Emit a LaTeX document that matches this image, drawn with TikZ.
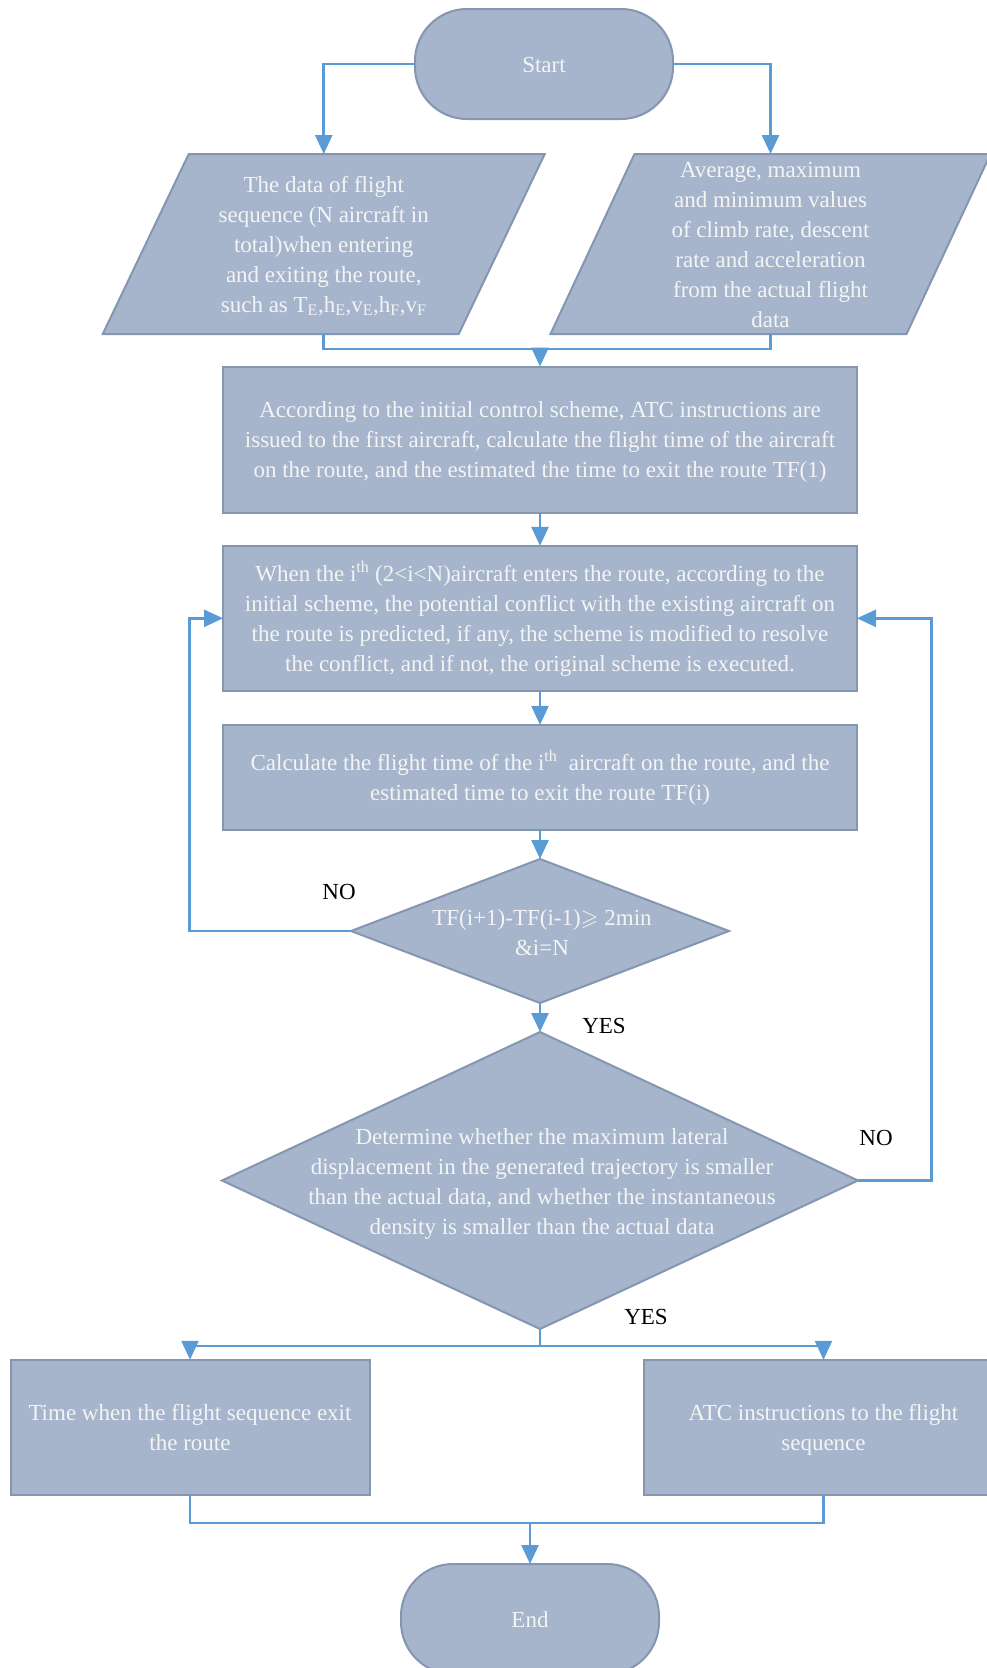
\documentclass[tikz,border=0pt]{standalone}
\usepackage{fontspec}
\setmainfont{Liberation Serif}
\usepackage{amssymb}
\usetikzlibrary{arrows.meta,shapes.geometric,backgrounds}
\definecolor{fillc}{RGB}{166,181,204}
\definecolor{borderc}{RGB}{132,150,176}
\definecolor{lineblue}{RGB}{91,155,213}
\definecolor{textc}{RGB}{244,244,244}
\newcommand\mystr{\rule[-7pt]{0pt}{30pt}}
\begin{document}
\begin{tikzpicture}[x=1pt,y=-1pt,
  txtfont/.style={font=\fontsize{23}{30}\selectfont},
  base/.style={txtfont, fill=fillc, draw=borderc, line width=2pt, text=textc, align=center, inner sep=0pt, outer sep=0pt},
  procbox/.style={base, rectangle},
  termbox/.style={base, rectangle, rounded corners=52pt, minimum width=258pt, minimum height=110pt},
  diabox/.style={base, diamond},
  iobox/.style={txtfont, text=textc, align=center, inner sep=0pt, outer sep=0pt, rectangle, minimum width=356pt, minimum height=180pt},
  iofill/.style={fill=fillc, draw=borderc, line width=2pt},
  inner/.style={txtfont, text=textc, align=center, inner sep=0pt},
  lbl/.style={txtfont, text=black, inner sep=0pt},
  con/.style={draw=lineblue, line width=2.6pt},
  arr/.style={con, -{Triangle[width=17pt,length=19pt]}}
]
\useasboundingbox (0,0) rectangle (987,1668);
\clip (0,0) rectangle (987,1668);

% terminals
\node[termbox] (start) at (544,64) {\mystr Start};
\node[termbox] (end) at (530,1619) {\mystr End};

% input/output parallelograms
\node[iobox] (p1) at (323.75,244) {\mystr The data of flight\\sequence (N aircraft in\\total)when entering\\and exiting the route,\\such as T\textsubscript{E},h\textsubscript{E},v\textsubscript{E},h\textsubscript{F},v\textsubscript{F}\mystr};
\node[iobox] (p2) at (770.5,244) {\mystr Average, maximum\\and minimum values\\of climb rate, descent\\rate and acceleration\\from the actual flight\\data\mystr};
\begin{pgfonlayer}{background}
  \path[iofill] ([xshift=43pt]p1.north west) -- ([xshift=43pt]p1.north east) -- ([xshift=-43pt]p1.south east) -- ([xshift=-43pt]p1.south west) -- cycle;
  \path[iofill] ([xshift=42pt]p2.north west) -- ([xshift=42pt]p2.north east) -- ([xshift=-42pt]p2.south east) -- ([xshift=-42pt]p2.south west) -- cycle;
\end{pgfonlayer}

% process boxes
\node[procbox, minimum width=634pt, minimum height=146pt] (b1) at (540,439.5) {\mystr According to the initial control scheme, ATC instructions are\\issued to the first aircraft, calculate the flight time of the aircraft\\on the route, and the estimated the time to exit the route TF(1)\mystr};
\node[procbox, minimum width=634pt, minimum height=145pt] (b2) at (540,618.3) {\mystr When the i\textsuperscript{th} (2<i<N)aircraft enters the route, according to the\\initial scheme, the potential conflict with the existing aircraft on\\the route is predicted, if any, the scheme is modified to resolve\\the conflict, and if not, the original scheme is executed.\mystr};
\node[procbox, minimum width=634pt, minimum height=105pt] (b3) at (540,777.4) {\mystr Calculate the flight time of the i\textsuperscript{th}\ \ aircraft on the route, and the\\estimated time to exit the route TF(i)\mystr};

% decisions
\node[diabox, minimum width=378pt, minimum height=144pt] (dia1) at (540,931) {};
\node[inner] (t1) at (542,932) {\mystr TF(i+1)-TF(i-1)$\geqslant$ 2min\\\&i=N\mystr};
\node[diabox, minimum width=636pt, minimum height=297pt] (dia2) at (540,1180.5) {};
\node[inner] (t2) at (542,1181) {\mystr Determine whether the maximum lateral\\displacement in the generated trajectory is smaller\\than the actual data, and whether the instantaneous\\density is smaller than the actual data\mystr};

% outputs
\node[procbox, minimum width=359pt, minimum height=135pt] (boxL) at (190,1427.3) {\mystr Time when the flight sequence exit\\the route\mystr};
\node[procbox, minimum width=359pt, minimum height=135pt] (boxR) at (823.5,1427.3) {\mystr ATC instructions to the flight\\sequence\mystr};

% labels
\node[lbl] (no1) at (339,892) {NO};
\node[lbl] (yes1) at (604,1026) {YES};
\node[lbl] (no2) at (876,1138) {NO};
\node[lbl] (yes2) at (646,1317) {YES};

% connectors
\draw[arr] (start.west) -| (p1.north);
\draw[arr] (start.east) -| (p2.north);
\coordinate (j1) at (540,349);
\draw[con] (p1.south) |- (j1) -| (p2.south);
\draw[arr] (j1) -- (b1.north);
\draw[arr] (b1.south) -- (b2.north);
\draw[arr] (b2.south) -- (b3.north);
\draw[arr] (b3.south) -- (dia1.north);
\draw[arr] (dia1.south) -- (dia2.north);
\coordinate (lx) at (189.5,931);
\draw[arr] (dia1.west) -- (lx) |- (b2.west);
\coordinate (rx) at (931.5,1180.5);
\draw[arr] (dia2.east) -- (rx) |- (b2.east);
\coordinate (j2) at (540,1346);
\draw[con] (dia2.south) -- (j2);
\draw[arr] (j2) -| (boxL.north);
\draw[arr] (j2) -| (boxR.north);
\coordinate (j3) at (530,1523);
\draw[con] (boxL.south) |- (j3);
\draw[con] (boxR.south) |- (j3);
\draw[arr] (j3) -- (end.north);
\end{tikzpicture}
\end{document}
